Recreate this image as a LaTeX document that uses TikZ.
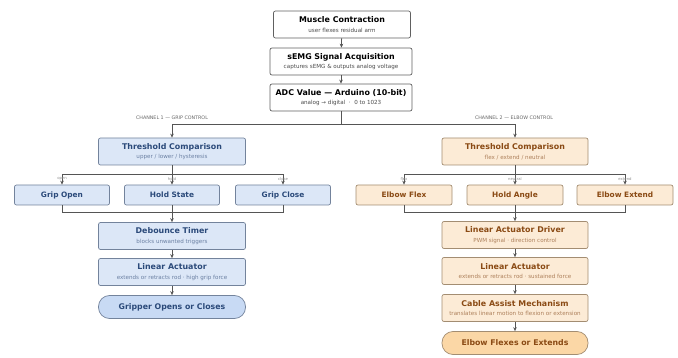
\documentclass[tikz,border=0pt]{standalone}
\usepackage{fontspec}
\setmainfont{DejaVu Sans}
\usetikzlibrary{arrows.meta,positioning}
\definecolor{gripblue}{HTML}{DCE7F7}
\definecolor{griptext}{HTML}{2B4A7A}
\definecolor{gripedge}{HTML}{73839C}
\definecolor{gripdeep}{HTML}{C8DAF4}
\definecolor{elbowfill}{HTML}{FCEBD6}
\definecolor{elbowtext}{HTML}{8A4A14}
\definecolor{elbowedge}{HTML}{A38D72}
\definecolor{elbowdeep}{HTML}{FBD7A6}
\definecolor{flowline}{HTML}{555555}

\newcommand{\boxtitle}[2]{{\bfseries\fontsize{7.9}{9}\selectfont #1}\\[-2.4pt]{\fontsize{5.6}{6}\selectfont\color{.!70!white}#2}}

\begin{document}
\begin{tikzpicture}[
  x=1pt, y=-1pt, >=Stealth,
  topblock/.style={rectangle, draw=gray!75!black, fill=white, line width=0.7pt, rounded corners=2pt, align=center, minimum width=142pt, minimum height=27pt, inner sep=1pt, text=black},
  gripblock/.style={rectangle, draw=gripedge, fill=gripblue, line width=0.7pt, rounded corners=2pt, align=center, minimum width=147pt, minimum height=27pt, inner sep=1pt, text=griptext},
  gripopt/.style={gripblock, minimum width=95pt, minimum height=20pt, font=\bfseries\fontsize{7.4}{8}\selectfont},
  gripout/.style={gripblock, fill=gripdeep, rounded corners=11pt, minimum height=23pt, font=\bfseries\fontsize{7.8}{9}\selectfont},
  elbowblock/.style={rectangle, draw=elbowedge, fill=elbowfill, line width=0.7pt, rounded corners=2pt, align=center, minimum width=146pt, minimum height=27pt, inner sep=1pt, text=elbowtext},
  elbowopt/.style={elbowblock, minimum width=96pt, minimum height=20pt, font=\bfseries\fontsize{7.4}{8}\selectfont},
  elbowout/.style={elbowblock, fill=elbowdeep, rounded corners=11pt, minimum height=23pt, font=\bfseries\fontsize{7.8}{9}\selectfont},
  line/.style={draw=flowline, line width=0.8pt, -{Stealth[length=4pt, width=3.5pt]}},
  link/.style={draw=flowline, line width=0.8pt},
  branchlbl/.style={font=\fontsize{3.8}{4}\selectfont, text=gray!90, inner sep=0.5pt},
  chanlbl/.style={font=\fontsize{4.8}{5}\selectfont, text=gray!80!black}
]
  \useasboundingbox (0,0) rectangle (678,358);

  % ==================== SHARED INPUT CHAIN ====================
  \node[topblock, minimum width=137pt] (muscle) at (342,24.5) {\boxtitle{Muscle Contraction}{user flexes residual arm}};
  \node[topblock] (semg) at (341,61.5) {\boxtitle{sEMG Signal Acquisition}{captures sEMG \& outputs analog voltage}};
  \node[topblock] (adc) at (341,97.5) {\boxtitle{ADC Value — Arduino (10-bit)}{analog → digital \ · \ 0 to 1023}};

  \draw[line] (muscle) -- (semg);
  \draw[line] (semg) -- (adc);

  % Split into the two channels
  \coordinate (split) at (341,124);
  \draw[link] (adc.south) -- (split);

  % ==================== CHANNEL 1: GRIP (Left: X = 172) ====================
  \node[chanlbl] at (172,118) {CHANNEL 1 — GRIP CONTROL};
  \node[gripblock] (grip_thr) at (172,151.5) {\boxtitle{Threshold Comparison}{upper / lower / hysteresis}};
  \draw[line] (split) -| (grip_thr.north);

  \node[gripopt] (grip_open) at (62,195) {Grip Open};
  \node[gripopt] (grip_hold) at (172,195) {Hold State};
  \node[gripopt] (grip_close) at (283,195) {Grip Close};

  \coordinate (grip_fork) at (172,174);
  \draw[link] (grip_thr.south) -- (grip_fork);
  \draw[line] (grip_fork) -| (grip_open.north) node[branchlbl, pos=0.75] {open};
  \draw[line] (grip_fork) -- (grip_hold.north) node[branchlbl, midway] {hold};
  \draw[line] (grip_fork) -| (grip_close.north) node[branchlbl, pos=0.75] {close};

  \node[gripblock] (grip_deb) at (172,236) {\boxtitle{Debounce Timer}{blocks unwanted triggers}};
  \node[gripblock] (grip_act) at (172,272) {\boxtitle{Linear Actuator}{extends or retracts rod · high grip force}};
  \node[gripout] (grip_end) at (172,307) {Gripper Opens or Closes};

  % Merge back into one path
  \coordinate (grip_merge) at (172,212);
  \draw[link] (grip_open.south) |- (grip_close.south |- grip_merge) -- (grip_close.south);
  \draw[line] (grip_hold.south) -- (grip_deb.north);
  \draw[line] (grip_deb) -- (grip_act);
  \draw[line] (grip_act) -- (grip_end);

  % ==================== CHANNEL 2: ELBOW (Right: X = 515) ====================
  \node[chanlbl] at (514,118) {CHANNEL 2 — ELBOW CONTROL};
  \node[elbowblock] (elb_thr) at (515,151.5) {\boxtitle{Threshold Comparison}{flex / extend / neutral}};
  \draw[line] (split) -| (elb_thr.north);

  \node[elbowopt] (elb_flex) at (404,195) {Elbow Flex};
  \node[elbowopt] (elb_hold) at (515,195) {Hold Angle};
  \node[elbowopt] (elb_ext) at (625,195) {Elbow Extend};

  \coordinate (elb_fork) at (515,174);
  \draw[link] (elb_thr.south) -- (elb_fork);
  \draw[line] (elb_fork) -| (elb_flex.north) node[branchlbl, pos=0.75] {flex};
  \draw[line] (elb_fork) -- (elb_hold.north) node[branchlbl, midway] {neutral};
  \draw[line] (elb_fork) -| (elb_ext.north) node[branchlbl, pos=0.75] {extend};

  \node[elbowblock] (elb_drv) at (515,235) {\boxtitle{Linear Actuator Driver}{PWM signal · direction control}};
  \node[elbowblock] (elb_act) at (515,271) {\boxtitle{Linear Actuator}{extends or retracts rod · sustained force}};
  \node[elbowblock] (elb_cable) at (515,308) {\boxtitle{Cable Assist Mechanism}{translates linear motion to flexion or extension}};
  \node[elbowout] (elb_end) at (515,343) {Elbow Flexes or Extends};

  % Merge back into one path
  \coordinate (elb_merge) at (515,212);
  \draw[link] (elb_flex.south) |- (elb_ext.south |- elb_merge) -- (elb_ext.south);
  \draw[line] (elb_hold.south) -- (elb_drv.north);
  \draw[line] (elb_drv) -- (elb_act);
  \draw[line] (elb_act) -- (elb_cable);
  \draw[line] (elb_cable) -- (elb_end);

\end{tikzpicture}
\end{document}
